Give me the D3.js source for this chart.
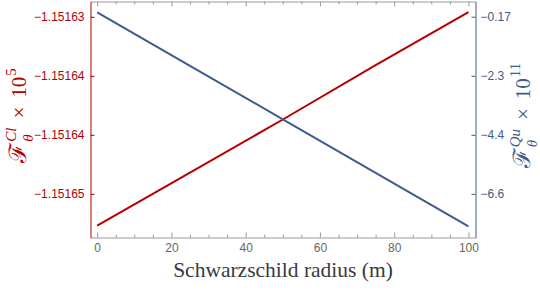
<!DOCTYPE html>
<html>
<head>
<meta charset="utf-8" />
<title>Flux vs Schwarzschild radius</title>
<script src="https://cdn.jsdelivr.net/npm/d3@7/dist/d3.min.js"></script>
<style>
body { margin: 0; background: #fff; }
svg .tick text { font-family: "Liberation Sans", Arial, sans-serif; }
</style>
</head>
<body>
<div id="chart"></div>
<script>
// values
var radius = [0, 25, 50, 75, 100];
var fluxCl = [-1.1516477, -1.1516432, -1.1516387, -1.1516341, -1.1516296];   // x 10^5
var fluxQu = [-0.016, -1.94, -3.87, -5.80, -7.73];                          // x 10^11

var xTicks = [0, 20, 40, 60, 80, 100];
var xMinor = [5, 10, 15, 25, 30, 35, 45, 50, 55, 65, 70, 75, 85, 90, 95];
var leftTicks = [-1.15163, -1.151635, -1.15164, -1.151645];
var leftLabels = ["\u22121.15163", "\u22121.15164", "\u22121.15164", "\u22121.15165"];
var rightTicks = [-0.17, -2.30, -4.43, -6.56];
var rightLabels = ["\u22120.17", "\u22122.3", "\u22124.4", "\u22126.6"];

const RED = "#b30000";
const BLUE = "#3f5b8c";
const GRAY = "#9a9a9a";
const SERIF = "'Liberation Serif', 'Times New Roman', serif";

const width = 540, height = 292;
const box = {left: 90.5, right: 475.5, top: 1.5, bottom: 237.5};

const svg = d3.select("#chart").append("svg")
	.attr("width", width)
	.attr("height", height);

var x = d3.scaleLinear().domain([-1.8, 101.9]).range([box.left, box.right]);
var yL = d3.scaleLinear().domain([-1.1516487, -1.1516287]).range([box.bottom, box.top]);
var yR = d3.scaleLinear().domain([-8.133, 0.380]).range([box.bottom, box.top]);

function styleAxis(g, col, textCol){
	g.select(".domain").attr("stroke", col);
	g.selectAll(".tick line").attr("stroke", col);
	g.selectAll(".tick text").attr("fill", textCol).attr("font-size", 12);
}

// frame top / bottom with ticks
svg.append("g")
	.attr("transform", "translate(0," + box.bottom + ")")
	.call(d3.axisBottom(x).tickValues(xTicks).tickSizeInner(-5).tickSizeOuter(0).tickPadding(6))
	.call(styleAxis, GRAY, "#666");
svg.append("g")
	.attr("transform", "translate(0," + box.bottom + ")")
	.call(d3.axisBottom(x).tickValues(xMinor).tickSizeInner(-3).tickSizeOuter(0).tickFormat(""))
	.call(g => g.select(".domain").remove())
	.call(styleAxis, GRAY, "#666");
svg.append("g")
	.attr("transform", "translate(0," + box.top + ")")
	.call(d3.axisTop(x).tickValues(xTicks).tickSizeInner(-5).tickSizeOuter(0).tickFormat(""))
	.call(styleAxis, GRAY, "#666");
svg.append("g")
	.attr("transform", "translate(0," + box.top + ")")
	.call(d3.axisTop(x).tickValues(xMinor).tickSizeInner(-3).tickSizeOuter(0).tickFormat(""))
	.call(g => g.select(".domain").remove())
	.call(styleAxis, GRAY, "#666");

// left (red) and right (blue) axes
svg.append("g")
	.attr("transform", "translate(" + box.left + ",0)")
	.call(d3.axisLeft(yL).tickValues(leftTicks).tickFormat((d, i) => leftLabels[i])
		.tickSizeInner(-4).tickSizeOuter(0).tickPadding(6))
	.call(styleAxis, RED, RED);
svg.append("g")
	.attr("transform", "translate(" + box.right + ",0)")
	.call(d3.axisRight(yR).tickValues(rightTicks).tickFormat((d, i) => rightLabels[i])
		.tickSizeInner(-4).tickSizeOuter(0).tickPadding(5))
	.call(styleAxis, BLUE, BLUE);

// lines
svg.append("path")
	.datum(radius)
	.attr("fill", "none")
	.attr("stroke", RED)
	.attr("stroke-width", 2)
	.attr("d", d3.line().x(d => x(d)).y((d, i) => yL(fluxCl[i])));
svg.append("path")
	.datum(radius)
	.attr("fill", "none")
	.attr("stroke", BLUE)
	.attr("stroke-width", 2)
	.attr("d", d3.line().x(d => x(d)).y((d, i) => yR(fluxQu[i])));

// x title
svg.append("text")
	.attr("x", (box.left + box.right) / 2)
	.attr("y", 277)
	.attr("text-anchor", "middle")
	.attr("fill", "#3a3a3a")
	.style("font-family", SERIF)
	.attr("font-size", 21.5)
	.text("Schwarzschild radius (m)");

// rotated y titles: F_theta^{sup} x 10^{exp}
function yTitle(cx, cy, sup, exp, col){
	var g = svg.append("g").attr("fill", col);
	var inner = g.append("g");
	var pos = 0;
	function piece(txt, size, dy, italic, fam){
		var t = inner.append("text").attr("x", pos).attr("y", dy)
			.attr("font-size", size)
			.style("font-family", fam || SERIF)
			.text(txt);
		if (italic) t.attr("font-style", "italic");
		return t.node().getComputedTextLength();
	}
	pos += piece("\u2131", 24, 0, false, "'DejaVu Serif', serif") + 1;
	var w1 = piece(sup, 15, -10, true);
	var w2 = piece("\u03b8", 15, 7, true);
	pos += Math.max(w1, w2) + 9;
	pos += piece("\u00d7", 21, 0, false) + 9;
	pos += piece("10", 21, 0, false) + 1;
	piece(exp, 15, -10, false);
	var bb = inner.node().getBBox();
	inner.attr("transform", "translate(" + (-bb.x - bb.width / 2) + "," + (-bb.y - bb.height / 2) + ")");
	g.attr("transform", "translate(" + cx + "," + cy + ") rotate(-90)");
}
yTitle(19, 116, "Cl", "5", RED);
yTitle(523, 116, "Qu", "11", BLUE);
</script>
</body>
</html>
